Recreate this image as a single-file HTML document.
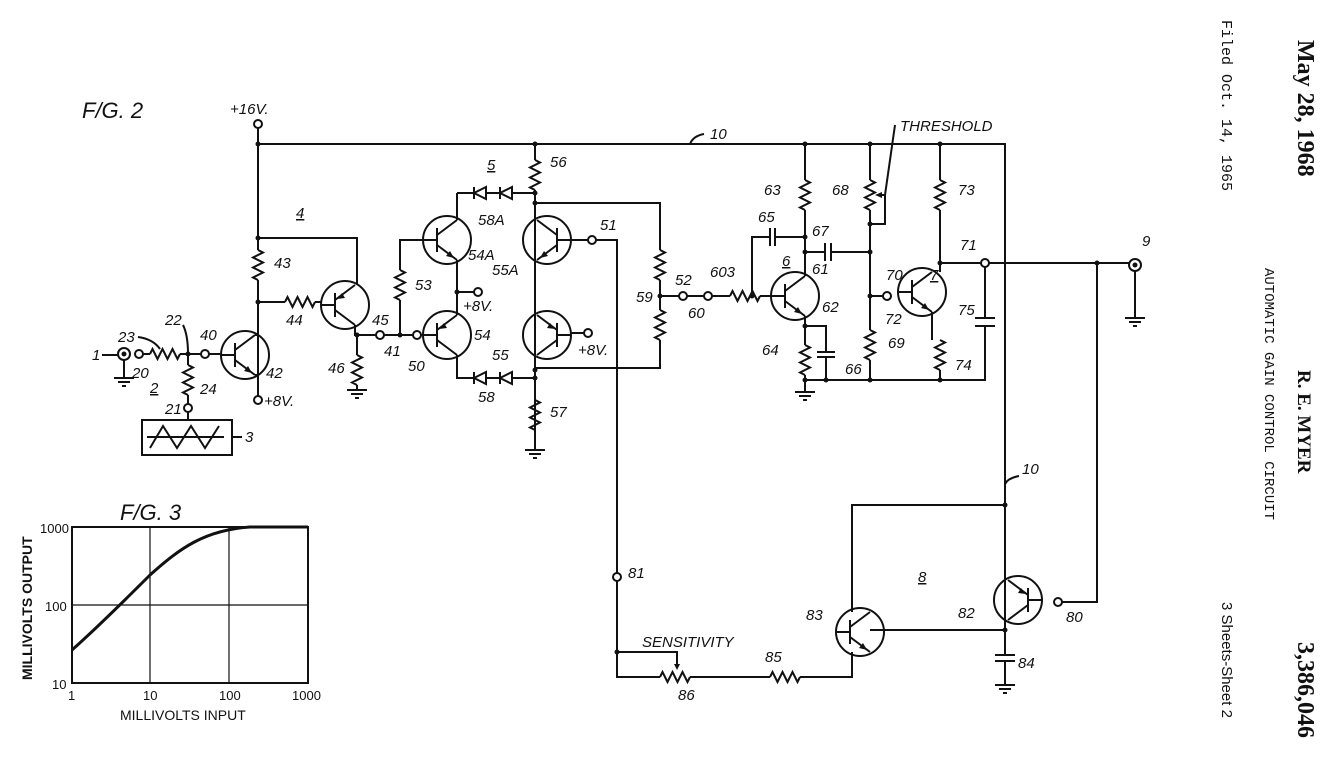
<!DOCTYPE html>
<html><head><meta charset="utf-8"><style>
html,body{margin:0;padding:0;background:#fff;}
svg{display:block;}
text{font-family:"Liberation Sans",sans-serif;font-style:italic;font-size:15px;fill:#111;}
.l{stroke:#111;stroke-width:2;fill:none;}
.t{stroke:#111;stroke-width:2;fill:#fff;}
.d{fill:#111;}
</style></head><body>
<svg width="1339" height="783" viewBox="0 0 1339 783" xmlns="http://www.w3.org/2000/svg">
<defs>
<g id="tr"><circle cx="0" cy="0" r="24" class="l"/><path class="l" d="M-24 0 H-10 M-10 -12 V12 M-10 -5 L10 -20 M-10 5 L10 20"/><path class="d" d="M7 18 L-1 16 L3 11 Z"/></g>
<g id="trp"><circle cx="0" cy="0" r="24" class="l"/><path class="l" d="M-24 0 H-10 M-10 -12 V12 M-10 -5 L10 -20 M-10 5 L10 20"/><path class="d" d="M-8 -6 L0 -7 L-3 -12 Z"/></g>
<path id="rv" class="l" d="M0 0 l5 2.5 l-10 5 l10 5 l-10 5 l10 5 l-10 5 l5 2.5"/>
<path id="rh" class="l" d="M0 0 l2.5 -5 l5 10 l5 -10 l5 10 l5 -10 l5 10 l2.5 -5"/>
<g id="gnd"><path class="l" d="M-10 0 H10 M-6 4 H6 M-2 8 H2"/></g>
<g id="dr"><path class="t" d="M0 -6 V6 L-12 0 Z M-12 -6 V6" /></g>
</defs>

<text x="82" y="118" style="font-size:22px">F/G. 2</text>
<text x="230" y="114">+16V.</text>
<circle cx="258" cy="124" r="4" class="t"/>

<path class="l" d="M258 128 V250 M258 280 V396 M258 144 H1005 V630"/>
<text x="710" y="139">10</text><path class="l" d="M690 144 q3 -8 14 -10"/>
<circle cx="258" cy="144" r="2.5" class="d"/>

<text x="296" y="218" style="text-decoration:underline">4</text>
<path class="l" d="M258 238 H357 V284"/><circle cx="258" cy="238" r="2.5" class="d"/>
<use href="#rv" x="258" y="250"/><text x="274" y="268">43</text>
<path class="l" d="M258 302 H285"/><circle cx="258" cy="302" r="2.5" class="d"/>
<use href="#rh" x="285" y="302"/><text x="286" y="325">44</text>
<path class="l" d="M315 302 H321"/>
<use href="#trp" x="345" y="305"/><text x="372" y="325">45</text>
<path class="l" d="M355 325 V335 H376 M357 335 V355 M357 385 V390"/>
<circle cx="357" cy="335" r="2.5" class="d"/>
<use href="#rv" x="357" y="355"/><text x="328" y="373">46</text>
<use href="#gnd" x="357" y="390"/>
<circle cx="380" cy="335" r="4" class="t"/><text x="384" y="356">41</text>
<path class="l" d="M384 335 H413"/><circle cx="400" cy="335" r="2.5" class="d"/>
<circle cx="417" cy="335" r="4" class="t"/><text x="408" y="371">50</text>

<text x="92" y="360">1</text><path class="l" d="M102 355 H118"/>
<circle cx="124" cy="354" r="6" class="l"/><circle cx="124" cy="354" r="2.5" class="d"/>
<path class="l" d="M124 360 V378"/><use href="#gnd" x="124" y="378"/>
<circle cx="139" cy="354" r="4" class="t"/><text x="132" y="378">20</text>
<path class="l" d="M143 354 H150 M180 354 H201"/><use href="#rh" x="150" y="354"/>
<text x="118" y="342">23</text><path class="l" d="M138 337 q15 2 22 12"/>
<text x="165" y="325">22</text><path class="l" d="M183 325 q5 10 5 29"/>
<circle cx="188" cy="354" r="2.5" class="d"/>
<circle cx="205" cy="354" r="4" class="t"/><text x="200" y="340">40</text>
<path class="l" d="M209 354 H220"/>
<use href="#tr" x="245" y="355"/><path class="l" d="M255 335 H258 M255 375 H258"/>
<text x="266" y="378">42</text>
<circle cx="258" cy="400" r="4" class="t"/><text x="264" y="406">+8V.</text>
<text x="150" y="393" style="text-decoration:underline">2</text>
<path class="l" d="M188 354 V365 M188 395 V404"/><use href="#rv" x="188" y="365"/>
<text x="200" y="394">24</text>
<circle cx="188" cy="408" r="4" class="t"/><text x="165" y="414">21</text>
<path class="l" d="M188 412 V420"/>
<rect x="142" y="420" width="90" height="35" class="l"/>
<path class="l" d="M150 448 L163 426 L177 448 L191 426 L205 448 L219 426 M147 437 H224 M232 437 H242"/>
<text x="245" y="442">3</text>

<text x="487" y="170" style="text-decoration:underline">5</text>
<path class="l" d="M535 144 V160 M535 190 V450"/><use href="#rv" x="535" y="160"/><text x="550" y="167">56</text>
<circle cx="535" cy="144" r="2.5" class="d"/>
<path class="l" d="M457 193 H535"/>
<use href="#dr" x="486" y="193"/><use href="#dr" x="512" y="193"/>
<circle cx="535" cy="193" r="2.5" class="d"/><circle cx="535" cy="203" r="2.5" class="d"/>
<text x="478" y="225">58A</text>
<use href="#tr" x="447" y="240"/><text x="468" y="260">54A</text>
<path class="l" d="M457 220 V193 M457 260 V315 M423 240 H400 V270 M400 300 V335"/>
<use href="#rv" x="400" y="270"/><text x="415" y="290">53</text>
<circle cx="457" cy="292" r="2.5" class="d"/><path class="l" d="M457 292 H474"/>
<circle cx="478" cy="292" r="4" class="t"/><text x="463" y="311">+8V.</text>
<use href="#trp" x="447" y="335"/><text x="474" y="340">54</text>
<path class="l" d="M421 335 H423 M457 355 V378 H535"/>
<use href="#dr" x="486" y="378"/><use href="#dr" x="512" y="378"/>
<text x="478" y="402">58</text>
<circle cx="535" cy="370" r="2.5" class="d"/><circle cx="535" cy="378" r="2.5" class="d"/>
<use href="#rv" x="535" y="400"/><text x="550" y="417">57</text><use href="#gnd" x="535" y="450"/>
<g transform="translate(547 240) scale(-1 1)"><use href="#tr"/></g>
<text x="492" y="275">55A</text>
<g transform="translate(547 335) scale(-1 1)"><use href="#trp"/></g>
<text x="492" y="360">55</text>
<path class="l" d="M571 240 H588"/><circle cx="592" cy="240" r="4" class="t"/><text x="600" y="230">51</text>
<path class="l" d="M596 240 H617 V573 M571 333 H584"/>
<circle cx="588" cy="333" r="4" class="t"/><text x="578" y="355">+8V.</text>
<path class="l" d="M535 203 H660 V250 M660 280 V310 M660 340 V368 H535"/>
<use href="#rv" x="660" y="250"/><use href="#rv" x="660" y="310"/>
<circle cx="660" cy="296" r="2.5" class="d"/><text x="636" y="302">59</text>
<path class="l" d="M660 296 H679"/>

<circle cx="683" cy="296" r="4" class="t"/><text x="675" y="285">52</text>
<path class="l" d="M687 296 H704"/>
<circle cx="708" cy="296" r="4" class="t"/><text x="688" y="318">60</text>
<path class="l" d="M712 296 H730 M760 296 H771"/><use href="#rh" x="730" y="296"/>
<text x="710" y="277">603</text>
<circle cx="752" cy="296" r="2.5" class="d"/>
<path class="l" d="M752 296 V237 H770 M775 237 H805"/>
<path class="l" d="M770 228 V246 M775 228 V246"/><text x="758" y="222">65</text>
<use href="#tr" x="795" y="296"/><text x="782" y="266" style="text-decoration:underline">6</text>
<text x="812" y="274">61</text><text x="822" y="312">62</text>
<path class="l" d="M805 144 V180 M805 210 V276 M805 316 V345 M805 375 V392"/>
<use href="#rv" x="805" y="180"/><text x="764" y="195">63</text>
<circle cx="805" cy="144" r="2.5" class="d"/><circle cx="805" cy="237" r="2.5" class="d"/><circle cx="805" cy="252" r="2.5" class="d"/>
<path class="l" d="M805 252 H825 M831 252 H870 M825 243 V261 M831 243 V261"/><text x="812" y="236">67</text>
<circle cx="805" cy="326" r="2.5" class="d"/>
<path class="l" d="M805 326 H826 V352 M826 357 V380 M817 352 H835 M817 357 H835"/>
<use href="#rv" x="805" y="345"/><text x="762" y="355">64</text>
<text x="845" y="374">66</text>
<use href="#gnd" x="805" y="392"/>
<path class="l" d="M805 380 H985 V326 M985 318 V263"/>
<path class="l" d="M975 318 H995 M975 326 H995"/><text x="958" y="315">75</text>
<circle cx="805" cy="380" r="2.5" class="d"/><circle cx="826" cy="380" r="2.5" class="d"/><circle cx="870" cy="380" r="2.5" class="d"/><circle cx="940" cy="380" r="2.5" class="d"/>

<path class="l" d="M870 144 V180 M870 210 V330 M870 360 V380"/>
<circle cx="870" cy="144" r="2.5" class="d"/>
<use href="#rv" x="870" y="180"/><text x="832" y="195">68</text>
<path class="l" d="M878 195 H885 V224 H870"/><path class="d" d="M875 195 l7 -3 v6 Z"/>
<path class="l" d="M885 195 L895 125"/><text x="900" y="131">THRESHOLD</text>
<circle cx="870" cy="224" r="2.5" class="d"/><circle cx="870" cy="252" r="2.5" class="d"/><circle cx="870" cy="296" r="2.5" class="d"/>
<use href="#rv" x="870" y="330"/><text x="888" y="348">69</text>
<path class="l" d="M870 296 H883"/><circle cx="887" cy="296" r="4" class="t"/><text x="886" y="280">70</text>
<use href="#tr" x="922" y="292"/><text x="930" y="280" style="text-decoration:underline">7</text>
<text x="885" y="324">72</text>
<path class="l" d="M940 144 V180 M940 210 V272 M932 312 V340 M940 370 V380"/>
<circle cx="940" cy="144" r="2.5" class="d"/>
<use href="#rv" x="940" y="180"/><text x="958" y="195">73</text>
<use href="#rv" x="940" y="340"/><text x="955" y="370">74</text>
<circle cx="940" cy="263" r="2.5" class="d"/>
<path class="l" d="M940 263 H981 M989 263 H1129"/>
<circle cx="985" cy="263" r="4" class="t"/><text x="960" y="250">71</text>
<circle cx="1097" cy="263" r="2.5" class="d"/>
<circle cx="1135" cy="265" r="6" class="l"/><circle cx="1135" cy="265" r="2.5" class="d"/>
<text x="1142" y="246">9</text>
<path class="l" d="M1135 271 V318"/><use href="#gnd" x="1135" y="318"/>
<path class="l" d="M1097 263 V602 H1062"/>

<text x="1022" y="474">10</text><path class="l" d="M1005 484 q3 -6 14 -8"/>
<circle cx="1005" cy="505" r="2.5" class="d"/>
<path class="l" d="M1005 505 H852 V612"/>
<text x="918" y="582" style="text-decoration:underline">8</text>
<g transform="translate(1018 600) scale(-1 1)"><use href="#trp"/></g>
<circle cx="1058" cy="602" r="4" class="t"/><text x="1066" y="622">80</text>
<text x="958" y="618">82</text>
<use href="#tr" x="860" y="632"/><text x="806" y="620">83</text>
<path class="l" d="M870 630 H1005 V655 M1005 661 V685 M995 655 H1015 M995 661 H1015"/>
<circle cx="1005" cy="630" r="2.5" class="d"/>
<text x="1018" y="668">84</text><use href="#gnd" x="1005" y="685"/>
<circle cx="617" cy="577" r="4" class="t"/><text x="628" y="578">81</text>
<path class="l" d="M617 581 V677 H660 M690 677 H770 M800 677 H852 V652 M617 652 H677 V665"/>
<circle cx="617" cy="652" r="2.5" class="d"/>
<path class="d" d="M677 670 l-3 -6 h6 Z"/>
<use href="#rh" x="660" y="677"/><use href="#rh" x="770" y="677"/>
<text x="642" y="647">SENSITIVITY</text><text x="678" y="700">86</text><text x="765" y="662">85</text>

<text x="120" y="520" style="font-size:22px">F/G. 3</text>
<rect x="72" y="527" width="236" height="156" class="l"/>
<path class="l" d="M150 527 V683 M229 527 V683 M72 605 H308" style="stroke-width:1.2"/>
<path class="l" style="stroke-width:3" d="M72 650 C100 625 130 595 150 575 C180 548 205 530 250 527 L308 527"/>
<text x="40" y="533" style="font-style:normal;font-size:13px">1000</text>
<text x="45" y="611" style="font-style:normal;font-size:13px">100</text>
<text x="52" y="689" style="font-style:normal;font-size:13px">10</text>
<text x="68" y="700" style="font-style:normal;font-size:13px">1</text>
<text x="143" y="700" style="font-style:normal;font-size:13px">10</text>
<text x="219" y="700" style="font-style:normal;font-size:13px">100</text>
<text x="292" y="700" style="font-style:normal;font-size:13px">1000</text>
<text x="120" y="720" style="font-style:normal;font-size:14px">MILLIVOLTS  INPUT</text>
<text transform="translate(32 680) rotate(-90)" style="font-style:normal;font-size:14px;font-weight:bold">MILLIVOLTS   OUTPUT</text>

<text transform="translate(1298 40) rotate(90)" style="font-family:'Liberation Serif',serif;font-style:normal;font-weight:bold;font-size:24px">May 28, 1968</text>
<text transform="translate(1222 20) rotate(90)" style="font-family:'Liberation Mono',monospace;font-style:normal;font-size:15px">Filed Oct. 14, 1965</text>
<text transform="translate(1298 370) rotate(90)" style="font-family:'Liberation Serif',serif;font-style:normal;font-weight:bold;font-size:19px">R. E. MYER</text>
<text transform="translate(1265 268) rotate(90)" style="font-family:'Liberation Mono',monospace;font-style:normal;font-size:14px">AUTOMATIC GAIN CONTROL CIRCUIT</text>
<text transform="translate(1298 642) rotate(90)" style="font-family:'Liberation Serif',serif;font-style:normal;font-weight:bold;font-size:24px">3,386,046</text>
<text transform="translate(1222 602) rotate(90)" style="font-style:normal;font-size:15px">3 Sheets-Sheet 2</text>
</svg>
</body></html>
